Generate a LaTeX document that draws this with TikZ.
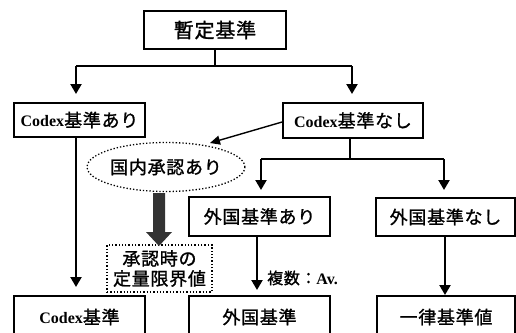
\documentclass[tikz,border=0pt]{standalone}
\usepackage{fontspec}
\setmainfont{Liberation Serif}
\newfontfamily\jp{Noto Sans CJK JP}[FakeBold=1.2,LetterSpace=4]
\usetikzlibrary{arrows.meta,shapes.geometric}
\tikzset{
  box/.style={draw,line width=1.8pt,inner sep=0pt,font=\jp\fontsize{18}{20}\selectfont},
  dotbox/.style={draw,line width=1.3pt,dotted,inner sep=0pt,font=\jp\fontsize{18}{20}\selectfont},
  con/.style={line width=2.2pt},
  arr/.style={line width=2.2pt,-{Triangle[length=10pt,width=11pt]}},
  thinarr/.style={line width=1.4pt,-{Triangle[length=10pt,width=9pt]}},
}
\newcommand{\cdxt}{{\rmfamily\fontsize{16}{18}\selectfont\bfseries Codex}}
\begin{document}
\begin{tikzpicture}[x=1pt,y=-1pt]
\useasboundingbox (0,0) rectangle (516,332);
\clip (0,0) rectangle (516,332);
\node[box,minimum width=142pt,minimum height=38pt,font=\jp\fontsize{20}{22}\selectfont] (top) at (215,30) {暫定基準};
\node[box,minimum width=131pt,minimum height=34pt] (ca) at (79.5,120) {\cdxt 基準あり};
\node[box,minimum width=140pt,minimum height=35pt] (cn) at (353,120.5) {\cdxt 基準なし};
\node[ellipse,dotbox,minimum width=151pt,minimum height=49pt] (el) at (166,167) {国内承認あり};
\node[box,minimum width=141pt,minimum height=39pt] (fa) at (259.5,216.5) {外国基準あり};
\node[box,minimum width=139pt,minimum height=38pt] (fn) at (445.5,217) {外国基準なし};
\node[dotbox,minimum width=105pt,minimum height=47pt,align=center,font=\jp\fontsize{18}{20}\selectfont] (lim) at (159.5,268.5) {承認時の\\定量限界値};
\node[box,minimum width=131pt,minimum height=42pt] (cb) at (79.5,317) {\raisebox{-2pt}{\cdxt 基準}};
\node[box,minimum width=141pt,minimum height=42pt] (fb) at (259.5,317) {\raisebox{-2pt}{外国基準}};
\node[box,minimum width=138pt,minimum height=42pt] (ub) at (446,317) {\raisebox{-2pt}{一律基準値}};
\node[anchor=west,inner sep=0pt] (lab) at (267,278) {\jp\fontsize{16}{18}\selectfont 複数：{\rmfamily\bfseries\fontsize{16}{18}\selectfont Av.}};
% connectors
\coordinate (j1) at (215,66);
\coordinate (j1l) at (76,66);
\coordinate (j1r) at (352,66);
\draw[con] (top.south) -- (j1);
\draw[con] (j1l) -- (j1r);
\draw[arr] (j1l) -- (76,94);
\draw[arr] (j1r) -- (352,94);
\coordinate (j2) at (350,159);
\coordinate (j2l) at (261,159);
\coordinate (j2r) at (444,159);
\draw[con] (350,138) -- (j2);
\draw[con] (j2l) -- (j2r);
\draw[arr] (j2l) -- (261,190);
\draw[arr] (j2r) -- (444,190);
\draw[arr] (76,137) -- (76,287);
\draw[arr] (257,236) -- (257,290);
\draw[arr] (445,236) -- (445,295);
\draw[thinarr] (cn.west |- 0,122) -- (210,143);
% thick block arrow
\fill[black!80] (153,193) -- (165,193) -- (165,232) -- (172,232) -- (159,246) -- (146,232) -- (153,232) -- cycle;
\end{tikzpicture}
\end{document}
